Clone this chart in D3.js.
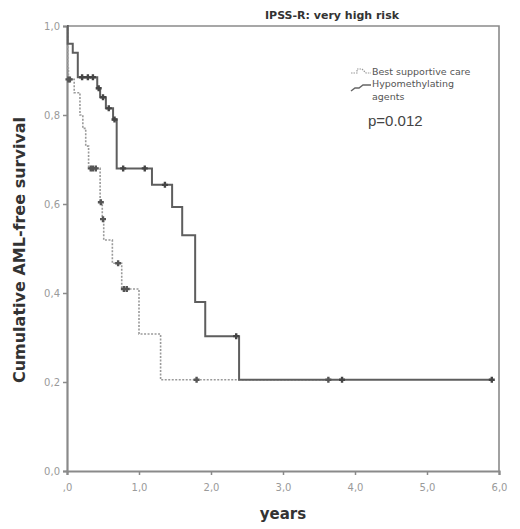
<!DOCTYPE html>
<html>
<head>
<meta charset="utf-8">
<script src="https://cdn.jsdelivr.net/npm/d3@7"></script>
<style>
  body { margin: 0; background: #fff; }
  svg { display: block; }
</style>
</head>
<body>
<script>
// Kaplan-Meier AML-free survival, IPSS-R very high risk

const width = 520, height = 529;
const margin = {top: 26, right: 21, bottom: 58, left: 67};

// HMA group: step times (years) and survival after each step
const hmaTimes = [0, 0.01, 0.08, 0.15, 0.42, 0.46, 0.54, 0.64, 0.69, 1.18, 1.46, 1.60, 1.78, 1.92, 2.39, 5.90];
const hmaSurv  = [1.0, 0.96, 0.94, 0.885, 0.86, 0.84, 0.815, 0.79, 0.68, 0.643, 0.593, 0.53, 0.38, 0.303, 0.205, 0.205];
const hmaCensT = [0.21, 0.29, 0.36, 0.44, 0.50, 0.58, 0.66, 0.78, 1.08, 1.36, 2.35, 3.82, 5.90];

// Best supportive care group
const bscTimes = [0, 0.01, 0.02, 0.10, 0.18, 0.22, 0.26, 0.30, 0.46, 0.49, 0.51, 0.63, 0.76, 1.00, 1.30, 3.63];
const bscSurv  = [1.0, 0.905, 0.88, 0.85, 0.80, 0.77, 0.73, 0.68, 0.604, 0.566, 0.519, 0.467, 0.409, 0.308, 0.205, 0.205];
const bscCensT = [0.02, 0.04, 0.33, 0.36, 0.40, 0.47, 0.50, 0.71, 0.79, 0.83, 1.80, 3.63];

const xTicks = [0, 1, 2, 3, 4, 5, 6];
const xTickLabels = [",0", "1,0", "2,0", "3,0", "4,0", "5,0", "6,0"];
const yTicks = [0, 0.2, 0.4, 0.6, 0.8, 1.0];
const yTickLabels = ["0,0", "0,2", "0,4", "0,6", "0,8", "1,0"];

const svg = d3.select("body").append("svg")
  .attr("width", width)
  .attr("height", height);

const x = d3.scaleLinear().domain([0, 6]).range([margin.left, width - margin.right]);
const y = d3.scaleLinear().domain([0, 1]).range([height - margin.bottom, margin.top]);

// frame (top + right)
svg.append("path")
  .attr("d", `M${x(0)},${y(1)}H${x(6)}V${y(0)}`)
  .attr("fill", "none")
  .attr("stroke", "#8a8a8a")
  .attr("stroke-width", 1.6);

// axes
const xAxis = svg.append("g")
  .attr("transform", `translate(0,${y(0)})`)
  .call(d3.axisBottom(x).tickValues(xTicks).tickSize(4).tickFormat((d, i) => xTickLabels[i]));
const yAxis = svg.append("g")
  .attr("transform", `translate(${x(0)},0)`)
  .call(d3.axisLeft(y).tickValues(yTicks).tickSize(4).tickFormat((d, i) => yTickLabels[i]));

[xAxis, yAxis].forEach(g => {
  g.select(".domain").attr("stroke", "#8a8a8a").attr("stroke-width", 2.2);
  g.selectAll(".tick line").attr("stroke", "#8a8a8a").attr("stroke-width", 1.5);
  g.selectAll(".tick text")
    .attr("fill", "#9a9a9a")
    .style("font-family", "DejaVu Sans")
    .style("font-size", "10px");
});
xAxis.selectAll(".tick text").attr("dy", "1.3em");

// curves
const line = d3.line()
  .x(d => x(d[0]))
  .y(d => y(d[1]))
  .curve(d3.curveStepAfter);

function survAt(times, surv, t) {
  let s = surv[0];
  for (let i = 0; i < times.length; i++) if (times[i] <= t) s = surv[i];
  return s;
}

const bscPts = bscTimes.map((t, i) => [t, bscSurv[i]]);
const hmaPts = hmaTimes.map((t, i) => [t, hmaSurv[i]]);

svg.append("path")
  .attr("d", line(bscPts))
  .attr("fill", "none")
  .attr("stroke", "#9a9a9a")
  .attr("stroke-width", 1.6)
  .attr("stroke-dasharray", "2,1.5");

svg.append("path")
  .attr("d", line(hmaPts))
  .attr("fill", "none")
  .attr("stroke", "#5e5e5e")
  .attr("stroke-width", 2);

// censor marks
function censors(times, surv, cens, color) {
  svg.append("g").selectAll("path")
    .data(cens)
    .join("path")
    .attr("d", t => {
      const cx = x(t), cy = y(survAt(times, surv, t));
      return `M${cx - 3},${cy}H${cx + 3}M${cx},${cy - 3}V${cy + 3}`;
    })
    .attr("stroke", color)
    .attr("stroke-width", 2.4);
}
censors(bscTimes, bscSurv, bscCensT, "#555");
censors(hmaTimes, hmaSurv, hmaCensT, "#444");

// title
svg.append("text")
  .attr("x", 332).attr("y", 19)
  .attr("text-anchor", "middle")
  .style("font-family", "DejaVu Sans")
  .style("font-weight", "bold")
  .style("font-size", "11px")
  .attr("fill", "#333")
  .text("IPSS-R: very high risk");

// legend
const leg = svg.append("g").style("font-family", "DejaVu Sans").style("font-size", "9.5px").attr("fill", "#555");
leg.append("path")
  .attr("d", "M351,73H357V69H362L366,73H371")
  .attr("fill", "none").attr("stroke", "#999").attr("stroke-width", 1.2).attr("stroke-dasharray", "1.5,1");
leg.append("path")
  .attr("d", "M351,91L355,88H359L363,85H371")
  .attr("fill", "none").attr("stroke", "#666").attr("stroke-width", 1.5);
leg.append("text").attr("x", 372).attr("y", 75).text("Best supportive care");
leg.append("text").attr("x", 372).attr("y", 87).text("Hypomethylating");
leg.append("text").attr("x", 372).attr("y", 100).text("agents");

svg.append("text")
  .attr("x", 368).attr("y", 126)
  .style("font-family", "Liberation Sans")
  .style("font-size", "15px")
  .attr("fill", "#444")
  .text("p=0.012");

// axis titles
svg.append("text")
  .attr("x", 283).attr("y", 519)
  .attr("text-anchor", "middle")
  .style("font-family", "DejaVu Sans")
  .style("font-weight", "bold")
  .style("font-size", "15px")
  .attr("fill", "#333")
  .text("years");

svg.append("text")
  .attr("transform", "translate(25,250) rotate(-90)")
  .attr("text-anchor", "middle")
  .style("font-family", "DejaVu Sans")
  .style("font-weight", "bold")
  .style("font-size", "16px")
  .attr("fill", "#333")
  .text("Cumulative AML-free survival");
</script>
</body>
</html>
